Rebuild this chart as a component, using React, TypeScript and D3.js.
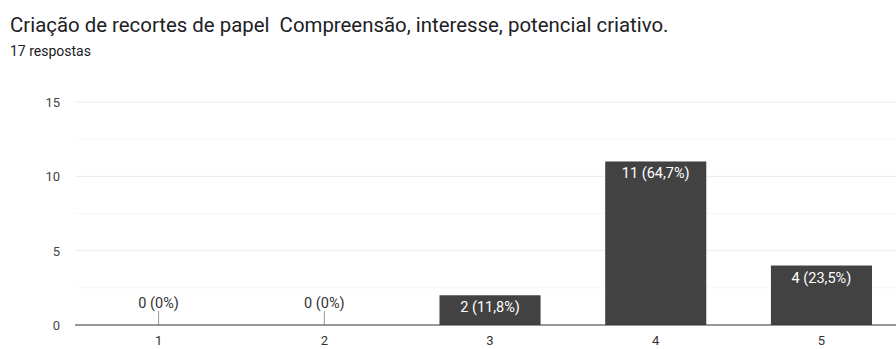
import React from "react";
import * as d3 from "d3";

const title = "Criação de recortes de papel  Compreensão, interesse, potencial criativo.";
const subtitle = "17 respostas";
const categories = ["1", "2", "3", "4", "5"];
const counts = [0, 0, 2, 11, 4];
const labels = ["0 (0%)", "0 (0%)", "2 (11,8%)", "11 (64,7%)", "4 (23,5%)"];
const yTicks = [0, 5, 10, 15];
const yMinorTicks = [2.5, 7.5, 12.5];

const W = 896;
const H = 349;

export default function App() {
  const x = d3
    .scaleBand<string>()
    .domain(categories)
    .range([75.75, 904.3])
    .paddingInner(0.39)
    .paddingOuter(0.195);
  const y = d3.scaleLinear().domain([0, 15]).range([325, 102]);
  const left = 75;
  const font = "Roboto, Arial, sans-serif";

  return (
    <svg
      width={W}
      height={H}
      style={{ position: "absolute", left: 0, top: 0, background: "#fff" }}
      fontFamily={font}
    >
      <text x={10} y={32} fontSize={20.4} fill="#202124" style={{ whiteSpace: "pre" }}>
        {title}
      </text>
      <text x={10} y={56} fontSize={14} fill="#202124">
        {subtitle}
      </text>
      {yMinorTicks.map((t) => (
        <line key={"m" + t} x1={left} x2={W} y1={y(t)} y2={y(t)} stroke="#f6f6f6" strokeWidth={1} />
      ))}
      {yTicks.map((t) => (
        <g key={t}>
          {t > 0 && <line x1={left} x2={W} y1={y(t)} y2={y(t)} stroke="#ebebeb" strokeWidth={1} />}
          <text x={60} y={y(t) + 5} fontSize={13} fill="#444" textAnchor="end">
            {t}
          </text>
        </g>
      ))}
      {categories.map((c, i) => {
        const bx = x(c)!;
        const cx = bx + x.bandwidth() / 2;
        const v = counts[i];
        if (v === 0) {
          return (
            <g key={c}>
              <line x1={cx} x2={cx} y1={y(0) - 14} y2={y(0)} stroke="#999" strokeWidth={1} />
              <text x={cx} y={y(0) - 17} fontSize={14.5} fill="#333" textAnchor="middle">
                {labels[i]}
              </text>
            </g>
          );
        }
        return (
          <g key={c}>
            <rect x={bx} y={y(v)} width={x.bandwidth()} height={y(0) - y(v)} fill="#424242" />
            <text x={cx} y={y(v) + 17} fontSize={14.5} fill="#fff" textAnchor="middle">
              {labels[i]}
            </text>
          </g>
        );
      })}
      <line x1={left} x2={W} y1={y(0)} y2={y(0)} stroke="#333" strokeWidth={1.2} />
      {categories.map((c) => (
        <text
          key={"x" + c}
          x={x(c)! + x.bandwidth() / 2}
          y={345}
          fontSize={13}
          fill="#333"
          textAnchor="middle"
        >
          {c}
        </text>
      ))}
    </svg>
  );
}
